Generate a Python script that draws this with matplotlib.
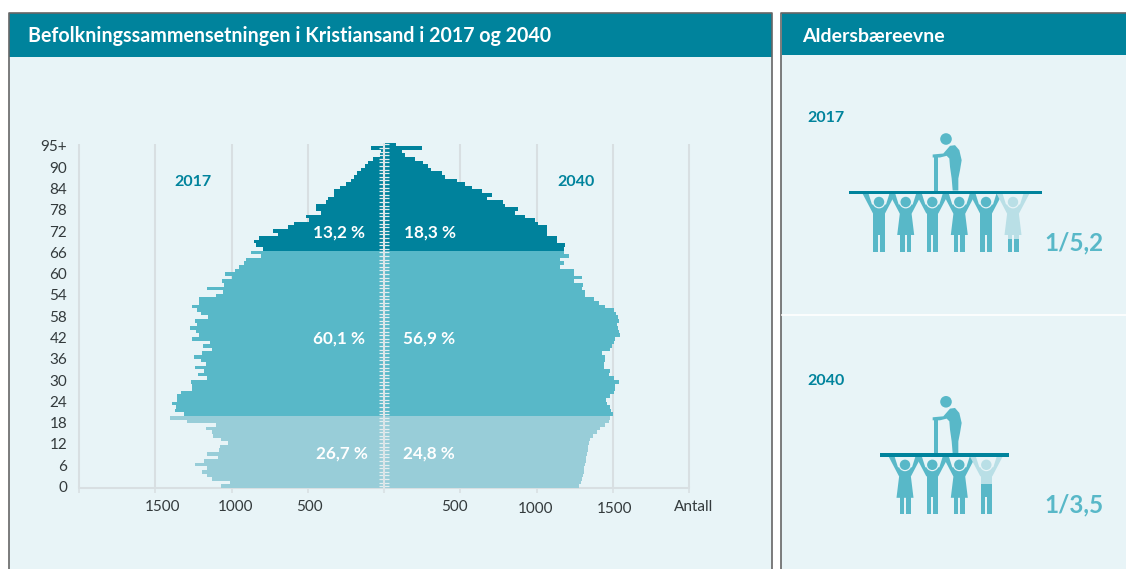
import matplotlib
matplotlib.use('Agg')
import matplotlib.pyplot as plt
import numpy as np
from matplotlib.patches import Rectangle, Polygon, Circle

plt.rcParams['font.family'] = ['Lato', 'DejaVu Sans']

# antall per alder, fra 0 til 95+
pop_2017 = [1070, 1009, 1129, 1158, 1195, 1158, 1239, 1180, 1086, 1158,
            1081, 1077, 1026, 1070, 1121, 1129, 1169, 1103, 1289, 1406,
            1311, 1371, 1366, 1393, 1355, 1355, 1333, 1257, 1257, 1268,
            1158, 1217, 1180, 1239, 1165, 1202, 1246, 1191, 1125, 1184,
            1140, 1261, 1213, 1235, 1274, 1224, 1239, 1151, 1200, 1224,
            1261, 1213, 1213, 1100, 1059, 1158, 1048, 1063, 1000, 1041,
            975, 950, 916, 905, 807, 873, 796, 840, 850, 818,
            697, 730, 630, 588, 490, 510, 412, 445, 445, 379,
            368, 325, 325, 287, 248, 215, 200, 178, 149, 127,
            105, 72, 29, 18, 83, 8]
pop_2040 = [1281, 1292, 1298, 1303, 1309, 1314, 1318, 1322, 1327, 1331,
            1336, 1340, 1346, 1353, 1371, 1397, 1419, 1452, 1474, 1485,
            1502, 1491, 1480, 1463, 1456, 1485, 1511, 1517, 1517, 1539,
            1507, 1474, 1480, 1445, 1445, 1452, 1452, 1430, 1485, 1496,
            1507, 1517, 1550, 1539, 1535, 1528, 1539, 1535, 1524, 1507,
            1452, 1408, 1379, 1320, 1320, 1298, 1305, 1243, 1298, 1247,
            1243, 1151, 1178, 1156, 1210, 1178, 1178, 1189, 1134, 1134,
            1068, 1068, 1068, 1013, 991, 925, 860, 881, 794, 778,
            678, 706, 640, 580, 530, 480, 400, 380, 311, 290,
            255, 200, 136, 118, 252, 80]
ages = np.arange(96)

# aldersgrupper: 0-19, 20-65, 66+
group_colors = ['#98cdd8', '#58b8c8', '#00829c']
group_limits = [0, 20, 66, 96]

ytick_labels = ['0', '6', '12', '18', '24', '30', '36', '42', '58', '54',
                '60', '66', '72', '78', '84', '90', '95+']
xtick_values = [-2000, -1500, -1000, -500, 500, 1000, 1500, 2000]
xtick_labels = ['1500', '1000', '500', '500', '1000', '1500', 'Antall']
xtick_label_px = [163, 236, 309, 454, 536, 615, 694]
xtick_label_py = [507, 507, 507, 507, 509, 509, 507]

share_labels = ['13,2 %', '18,3 %', '60,1 %', '56,9 %', '26,7 %', '24,8 %']
share_px = [365, 404, 365, 403, 368, 403]
share_py = [233, 233, 339, 339, 454, 454]

HEADER = '#00839c'
BG = '#e8f4f7'
MID = '#58b8c8'
PALE = '#b9dfe6'
BORDER = '#666666'
GRID = '#d8dfe2'
TEXT = '#333a3c'

W, H = 1126, 569
fig = plt.figure(figsize=(W / 100, H / 100), dpi=100, facecolor='white')

# bakgrunn i pikselkoordinater
bg = fig.add_axes([0, 0, 1, 1])
bg.set_xlim(0, W)
bg.set_ylim(H, 0)
bg.axis('off')

bg.add_patch(Rectangle((9, 13), 763, H - 13, fc=BG, ec='none'))
bg.add_patch(Rectangle((781, 13), W - 781, H - 13, fc=BG, ec='none'))
bg.add_patch(Rectangle((9, 13), 763, 44, fc=HEADER, ec='none'))
bg.add_patch(Rectangle((782, 13), W - 782, 42, fc=HEADER, ec='none'))
bg.plot([9, 9, 772, 772], [H, 13, 13, H], color=BORDER, lw=1.2)
bg.plot([781, 781, W], [H, 13, 13], color=BORDER, lw=1.2)
bg.plot([782, W], [315, 315], color='white', lw=1.2)

bg.text(28, 36, 'Befolkningssammensetningen i Kristiansand i 2017 og 2040',
        color='white', fontsize=14.15, fontweight='bold', va='center', ha='left')
bg.text(802, 36, 'Aldersbæreevne', color='white', fontsize=14,
        fontweight='bold', va='center', ha='left')
bg.text(807, 118, '2017', color=HEADER, fontsize=11.5, fontweight='bold', va='center')
bg.text(807, 381, '2040', color=HEADER, fontsize=11.5, fontweight='bold', va='center')
bg.text(174, 182, '2017', color=HEADER, fontsize=11.5, fontweight='bold', va='center')
bg.text(557, 182, '2040', color=HEADER, fontsize=11.5, fontweight='bold', va='center')


def draw_old(cx, y):
    # eldre person med stokk, oppå brettet
    pts = [(320, 92), (300, 97), (278, 97), (278, 88), (310, 85), (330, 62), (345, 60),
           (358, 75), (365, 105), (360, 135), (355, 160), (355, 196), (338, 196),
           (335, 160), (330, 125), (328, 100)]
    bg.add_patch(Polygon([(cx + (a - 318) / 3, y + (b - 196) / 3) for a, b in pts],
                         fc=MID, ec='none'))
    bg.add_patch(Rectangle((cx - 11.7, y - 33.5), 3.4, 33.5, fc=MID, ec='none'))
    bg.add_patch(Circle((cx, y - 51.5), 5.8, fc=MID, ec='none'))


def draw_person(cx, y, female=False, color=MID, clip_from=None):
    # person som holder brettet, y er oversiden av brettet
    parts = []
    # armer
    parts.append((Polygon([(cx - 16.5, y + 3), (cx - 10.5, y + 3), (cx - 7, y + 14), (cx + 7, y + 14),
                           (cx + 10.5, y + 3), (cx + 16.5, y + 3), (cx + 6, y + 23),
                           (cx - 6, y + 23)]), color))
    parts.append((Circle((cx, y + 11.5), 6.4), BG))
    parts.append((Circle((cx, y + 11.5), 5.2), color))
    if female:
        parts.append((Polygon([(cx - 5.5, y + 20), (cx + 5.5, y + 20), (cx + 8.5, y + 44.5),
                               (cx - 8.5, y + 44.5)]), color))
        parts.append((Rectangle((cx - 5.5, y + 44), 4.5, 17), color))
        parts.append((Rectangle((cx + 1, y + 44), 4.5, 17), color))
    else:
        parts.append((Rectangle((cx - 5.7, y + 20), 11.4, 24), color))
        parts.append((Rectangle((cx - 5.7, y + 42), 4.8, 19), color))
        parts.append((Rectangle((cx + 0.9, y + 42), 4.8, 19), color))
    for p, c in parts:
        p.set_facecolor(c)
        p.set_edgecolor('none')
        bg.add_patch(p)
        if clip_from is not None:
            p.set_clip_path(Rectangle((cx - 20, y + clip_from), 40, 70, transform=bg.transData))


def draw_group(x0, x1, y, old_x, xs, kinds, light_clip):
    bg.add_patch(Rectangle((x0, y), x1 - x0, 3.5, fc=HEADER, ec='none', zorder=3))
    draw_old(old_x, y)
    for i, (cx, female) in enumerate(zip(xs, kinds)):
        if i == len(xs) - 1:
            draw_person(cx, y, female, PALE)
            draw_person(cx, y, female, MID, clip_from=light_clip)
        else:
            draw_person(cx, y, female)


draw_group(849, 1042, 190.5, 946, [879, 905.7, 932.3, 959.3, 986, 1013],
           [False, True, False, True, False, True], 48)
draw_group(880, 1009, 453.3, 946, [905, 932.3, 959.3, 986.3],
           [True, False, True, False], 31)

bg.text(1044, 243, '1/5,2', color=MID, fontsize=17.5, fontweight='bold', va='center')
bg.text(1044, 505, '1/3,5', color=MID, fontsize=17.5, fontweight='bold', va='center')

# befolkningspyramiden
PX_PER_UNIT = 0.1525
ax_left, ax_right = 384 - 2000 * PX_PER_UNIT, 384 + 2000 * PX_PER_UNIT
ax_top, ax_bottom = 142.7, 488
ax = fig.add_axes([ax_left / W, 1 - ax_bottom / H, (ax_right - ax_left) / W, (ax_bottom - ax_top) / H])
ax.patch.set_alpha(0)
ax.set_xlim(-2000, 2000)
ax.set_ylim(-0.5, 95.5)
for s in ax.spines.values():
    s.set_visible(False)

ax.vlines(xtick_values, -0.5, 95, color=GRID, lw=1.5, zorder=1, clip_on=False)
ax.axhline(-0.5, color=GRID, lw=1.5, zorder=1, clip_on=False)

for i, color in enumerate(group_colors):
    lo, hi = group_limits[i], group_limits[i + 1]
    ax.barh(ages[lo:hi], -np.array(pop_2017[lo:hi]), height=1.0, color=color, lw=0, zorder=2)
    ax.barh(ages[lo:hi], pop_2040[lo:hi], height=1.0, color=color, lw=0, zorder=2)

# midtstrek med aldersmerker
ax.hlines(ages, -30, 30, color='#e4eef0', lw=0.9, zorder=3)
ax.vlines(0, -1.5, 95.5, color='#dbe4e7', lw=1.5, zorder=3, clip_on=False)

ax.set_xticks([0] + xtick_values)
ax.set_xticklabels([])
ax.tick_params(axis='x', length=3.6, width=1.1, color=GRID)
ax.set_yticks(np.linspace(-0.1, 94.6, 17))
ax.set_yticklabels(ytick_labels, fontsize=11, color=TEXT)
ax.tick_params(axis='y', length=0, pad=8.6)

for label, px, py in zip(xtick_labels, xtick_label_px, xtick_label_py):
    bg.text(px, py, label, color=TEXT, fontsize=11, ha='center', va='center')

for i, (label, px, py) in enumerate(zip(share_labels, share_px, share_py)):
    ax.text(px, py, label, color='white', fontsize=12.3, fontweight='bold',
            ha='left' if i % 2 else 'right', va='center', transform=bg.transData, zorder=5)

fig.savefig('out.png', dpi=100)
